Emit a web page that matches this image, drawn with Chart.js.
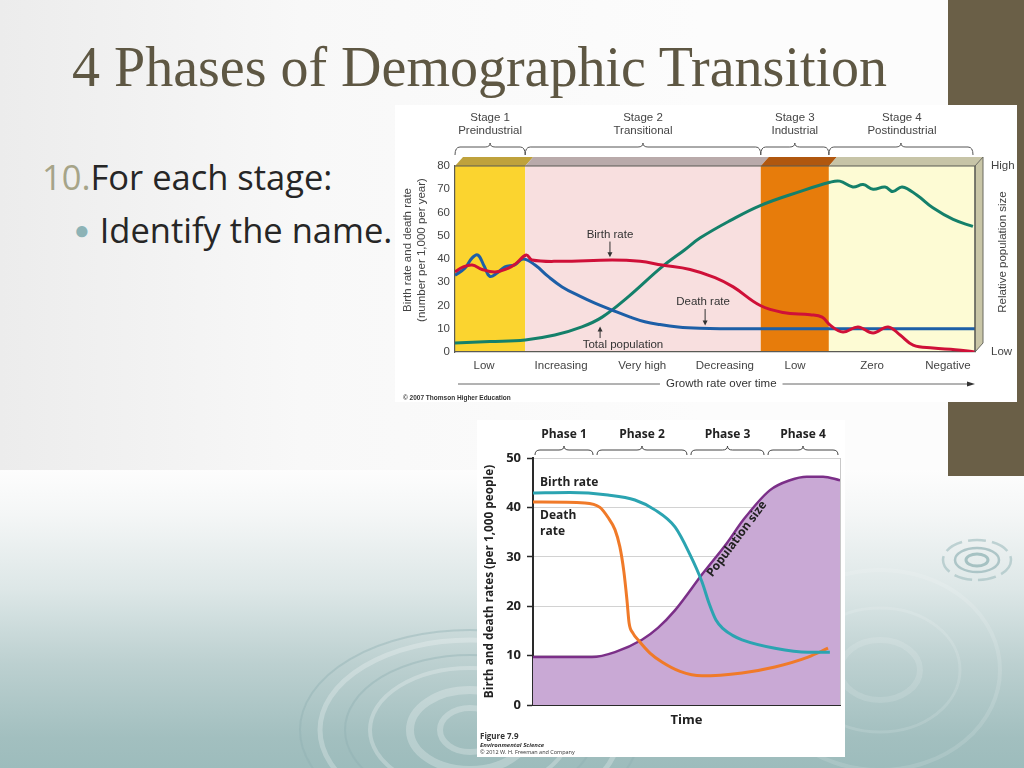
<!DOCTYPE html>
<html>
<head>
<meta charset="utf-8">
<title>4 Phases of Demographic Transition</title>
<script src="https://cdn.jsdelivr.net/npm/chart.js@4.4.1/dist/chart.umd.min.js"></script>
<style>
  html, body { margin: 0; padding: 0; }
  body {
    width: 1024px; height: 768px; position: relative; overflow: hidden;
    background: linear-gradient(to right, #ececec 0px, #f8f8f8 300px, #fcfcfc 700px);
    font-family: "Open Sans", sans-serif;
  }
  #sea {
    position: absolute; left: 0; top: 470px; width: 1024px; height: 298px;
    background: linear-gradient(to bottom, #fdfdfd 0%, #f4f6f6 15%, #dde7e7 40%, #bcd0d0 65%, #a2bfbf 90%, #9dbcbc 100%);
  }
  #ripples { position: absolute; left: 0; top: 0; }
  #olive { position: absolute; left: 948px; top: 0; width: 76px; height: 476px; background: #6a5f47; }
  #title {
    position: absolute; left: 72px; top: 39px; line-height: 1; white-space: nowrap;
    font-family: "Liberation Serif", serif; font-size: 56px; color: #5e5743;
  }
  .line { position: absolute; white-space: nowrap; line-height: 1; font-size: 34.5px; color: #262626; }
  #l1 { left: 42px; top: 160px; }
  #l1 .num { color: #a6a488; }
  #l2 { left: 74px; top: 213px; }
  #l2 .dot { color: #8db3b6; font-size: 26px; position: relative; top: -4px; margin-right: 10px; }
  #topBox { position: absolute; left: 395px; top: 105px; width: 622px; height: 297px; background: #fff; }
  #botBox { position: absolute; left: 477px; top: 420px; width: 368px; height: 337px; background: #fff; }
</style>
</head>
<body>
<div id="sea"></div>
<svg id="ripples" width="1024" height="768">
  <g fill="none" stroke="#ffffff" stroke-opacity="0.25">
    <ellipse cx="470" cy="730" rx="150" ry="90" stroke-width="5"/>
    <ellipse cx="470" cy="730" rx="100" ry="62" stroke-width="4"/>
    <ellipse cx="470" cy="730" rx="60" ry="40" stroke-width="8"/>
    <ellipse cx="470" cy="730" rx="30" ry="22" stroke-width="6"/>
  </g>
  <g fill="none" stroke="#ffffff" stroke-opacity="0.13">
    <ellipse cx="880" cy="670" rx="120" ry="100" stroke-width="4"/>
    <ellipse cx="880" cy="670" rx="80" ry="62" stroke-width="3"/>
    <ellipse cx="880" cy="670" rx="40" ry="30" stroke-width="6"/>
  </g>
  <g fill="none" stroke="#8fb0b2" stroke-opacity="0.4">
    <ellipse cx="470" cy="730" rx="170" ry="100" stroke-width="2"/>
    <ellipse cx="470" cy="730" rx="125" ry="75" stroke-width="2"/>
  </g>
  <g fill="none" stroke="#9fbcbe" stroke-width="2.5">
    <ellipse cx="977" cy="560" rx="34" ry="20" stroke-opacity="0.6" stroke-dasharray="18 6"/>
    <ellipse cx="977" cy="560" rx="22" ry="12" stroke-opacity="0.8"/>
    <ellipse cx="977" cy="560" rx="11" ry="6" stroke-opacity="0.9" stroke-width="3"/>
  </g>
</svg>
<div id="olive"></div>
<div id="title">4 Phases of Demographic Transition</div>
<div class="line" id="l1"><span class="num">10.</span>For each stage:</div>
<div class="line" id="l2"><span class="dot">&#9679;</span>Identify the name.</div>
<div id="topBox"><canvas id="top" width="622" height="297"></canvas></div>
<div id="botBox"><canvas id="bot" width="368" height="337"></canvas></div>

<script>
// ---------- top chart (Thomson) : x is time 0..100 ----------
const stageNames = ['Stage 1', 'Stage 2', 'Stage 3', 'Stage 4'];
const stageSubs = ['Preindustrial', 'Transitional', 'Industrial', 'Postindustrial'];
const stageEdges = [0, 13.5, 58.8, 71.9, 100];
const growthLabels = ['Low', 'Increasing', 'Very high', 'Decreasing', 'Low', 'Zero', 'Negative'];
const growthAt = [5.6, 20.4, 36, 51.9, 65.4, 80.2, 94.8];

const birthX = [0, 1.5, 3.3, 5.2, 7.7, 10.2, 11.7, 13.7, 14.8, 20.2, 30.2, 35.6, 39.8, 45.2, 50, 53.5, 58.7, 63.1, 68.3, 70.6, 72.1, 74.6, 77.5, 80.4, 83.3, 85.6, 88.1, 91.9, 96.2, 100];
const birthY = [34.5, 36.5, 37.4, 35.5, 34.4, 36, 38, 41.7, 39.6, 39, 39.6, 39, 37.4, 35.5, 32, 28, 20, 17, 16, 15, 11.6, 8.6, 10.8, 8.2, 10.8, 7.3, 3, 1.7, 1, 0];
const deathX = [0, 1.9, 3.3, 4.4, 5.6, 6.7, 8.1, 9.6, 11.5, 13.1, 15.4, 17.9, 20.6, 24, 26.9, 30.2, 33.7, 36.5, 39.4, 42.9, 47.1, 51, 66.3, 85.6, 100];
const deathY = [33, 36, 40.5, 41.7, 37, 32.5, 34, 36.6, 37.5, 40, 37.4, 32.5, 28, 24, 21, 18, 15, 13, 11.8, 10.8, 10.2, 10, 10, 10, 10];
const popX = [0, 6.7, 13.5, 19.2, 24.4, 28.3, 33.3, 39.8, 44.2, 47.1, 52.9, 58.7, 66.3, 72.1, 74, 76.5, 78.5, 80.4, 82.7, 84.2, 86, 88.8, 91.9, 95.8, 99.6];
const popY = [3.9, 4.5, 5.2, 7.3, 10.8, 15, 23.7, 36.6, 44, 49, 56.5, 63, 69, 73, 73.5, 71, 72, 70, 71, 69, 71, 67.5, 62, 57, 54];

// ---------- bottom chart (Freeman) : x is time 0..100 ----------
const phaseNames = ['Phase 1', 'Phase 2', 'Phase 3', 'Phase 4'];
const phaseEdges = [0, 20.2, 50.8, 75.9, 100];
const rateTicks = [0, 10, 20, 30, 40, 50];

const fBirthX = [0, 12, 24.4, 33.2, 39.7, 46.3, 51.1, 55, 57.4, 59.6, 62, 65, 68.1, 78.8, 89.6, 96.7];
const fBirthY = [42.9, 43, 42.5, 41.5, 39.5, 36, 30.5, 25, 20.5, 17.2, 15.4, 14.1, 13.2, 11.5, 10.7, 10.7];
const fDeathX = [0, 16.9, 21.8, 24.4, 26.7, 28.3, 29.6, 30.6, 31.3, 32.6, 34.2, 38.1, 42, 47.9, 55, 68.1, 78.8, 89.6, 96.1];
const fDeathY = [41.1, 40.9, 40, 38, 35.5, 32, 27, 21.3, 16.6, 14.5, 13.2, 10.5, 8.7, 6.8, 5.9, 6.5, 7.7, 9.7, 11.5];
const fPopX = [0, 19.2, 26.7, 35.5, 40.7, 46.3, 55.4, 63.2, 68.4, 77.2, 83.7, 89.2, 94.5, 100];
const fPopY = [9.7, 9.7, 10.7, 13.2, 15.6, 19.2, 26.7, 32.8, 37.4, 43.5, 45.5, 46.2, 46.2, 45.5];

const pts = (xs, ys) => xs.map((x, i) => ({ x: x, y: ys[i] }));

function brace(ctx, x1, x2, y0, y1, y2) {
  const m = (x1 + x2) / 2, r = Math.min(5, (x2 - x1) / 4);
  ctx.beginPath();
  ctx.moveTo(x1, y0);
  ctx.quadraticCurveTo(x1, y1, x1 + r, y1);
  ctx.lineTo(m - r, y1);
  ctx.quadraticCurveTo(m, y1, m, y2);
  ctx.quadraticCurveTo(m, y1, m + r, y1);
  ctx.lineTo(x2 - r, y1);
  ctx.quadraticCurveTo(x2, y1, x2, y0);
  ctx.stroke();
}

function arrow(ctx, x, yFrom, yTo) {
  const d = yTo > yFrom ? 1 : -1;
  ctx.beginPath();
  ctx.moveTo(x, yFrom);
  ctx.lineTo(x, yTo - d * 4);
  ctx.stroke();
  ctx.beginPath();
  ctx.moveTo(x, yTo);
  ctx.lineTo(x - 2.5, yTo - d * 5);
  ctx.lineTo(x + 2.5, yTo - d * 5);
  ctx.closePath();
  ctx.fill();
}

const SANS = '"Liberation Sans", Arial, sans-serif';
const stageFill = ['#fbd42f', '#f8dfdf', '#e77c0b', '#fdfbd4'];
const stageTopFill = ['#bfa23c', '#b9aaaa', '#b0570f', '#c7c4a7'];

const topDecor = {
  id: 'topDecor',
  beforeDraw(chart) {
    const { ctx, chartArea: a, scales: { x } } = chart;
    ctx.save();
    for (let i = 0; i < 4; i++) {
      const x1 = x.getPixelForValue(stageEdges[i]), x2 = x.getPixelForValue(stageEdges[i + 1]);
      ctx.fillStyle = stageFill[i];
      ctx.fillRect(x1, a.top, x2 - x1, a.bottom - a.top);
      ctx.fillStyle = stageTopFill[i];
      ctx.beginPath();
      ctx.moveTo(x1, a.top); ctx.lineTo(x2, a.top); ctx.lineTo(x2 + 8, a.top - 9); ctx.lineTo(x1 + 8, a.top - 9);
      ctx.closePath(); ctx.fill();
    }
    // right face
    ctx.fillStyle = '#c9c6a7';
    ctx.strokeStyle = '#6a6a60';
    ctx.lineWidth = 1;
    ctx.beginPath();
    ctx.moveTo(a.right, a.top); ctx.lineTo(a.right + 8, a.top - 9); ctx.lineTo(a.right + 8, a.bottom - 9); ctx.lineTo(a.right, a.bottom);
    ctx.closePath(); ctx.fill(); ctx.stroke();
    ctx.restore();
  },
  afterDraw(chart) {
    const { ctx, chartArea: a, scales: { x, y } } = chart;
    ctx.save();
    ctx.strokeStyle = '#5a5a55';
    ctx.lineWidth = 1.2;
    ctx.beginPath(); ctx.moveTo(a.left, a.top); ctx.lineTo(a.right, a.top); ctx.lineTo(a.right, a.bottom); ctx.stroke();

    // stage headers and braces
    ctx.fillStyle = '#444';
    ctx.font = '11.5px ' + SANS;
    ctx.textAlign = 'center';
    ctx.textBaseline = 'middle';
    ctx.strokeStyle = '#555';
    ctx.lineWidth = 1;
    for (let i = 0; i < 4; i++) {
      const x1 = x.getPixelForValue(stageEdges[i]), x2 = x.getPixelForValue(stageEdges[i + 1]);
      const m = (x1 + x2) / 2;
      ctx.fillText(stageNames[i], m, a.top - 48);
      ctx.fillText(stageSubs[i], m, a.top - 35);
      brace(ctx, x1, x2 - (i === 3 ? 2 : 0), a.top - 11, a.top - 19, a.top - 23);
    }

    // curve annotations
    ctx.fillStyle = '#333';
    ctx.strokeStyle = '#333';
    ctx.font = '11.5px ' + SANS;
    ctx.fillText('Birth rate', x.getPixelForValue(29.8), y.getPixelForValue(50.3));
    arrow(ctx, x.getPixelForValue(29.8), y.getPixelForValue(47.5), y.getPixelForValue(40.8));
    ctx.fillText('Death rate', x.getPixelForValue(47.7), y.getPixelForValue(21.6));
    arrow(ctx, x.getPixelForValue(48.1), y.getPixelForValue(18.5), y.getPixelForValue(11.4));
    ctx.fillText('Total population', x.getPixelForValue(32.3), y.getPixelForValue(3));
    arrow(ctx, x.getPixelForValue(27.9), y.getPixelForValue(6), y.getPixelForValue(11));

    // growth rate arrow
    const gy = a.bottom + 32;
    ctx.font = '11.5px ' + SANS;
    const gt = 'Growth rate over time';
    const gm = x.getPixelForValue(51.2);
    const gw = ctx.measureText(gt).width;
    ctx.fillText(gt, gm, gy);
    ctx.strokeStyle = '#666';
    ctx.lineWidth = 1;
    ctx.beginPath();
    ctx.moveTo(a.left + 3, gy); ctx.lineTo(gm - gw / 2 - 6, gy);
    ctx.moveTo(gm + gw / 2 + 6, gy); ctx.lineTo(a.right - 6, gy);
    ctx.stroke();
    ctx.fillStyle = '#333';
    ctx.beginPath();
    ctx.moveTo(a.right, gy); ctx.lineTo(a.right - 8, gy - 2.5); ctx.lineTo(a.right - 8, gy + 2.5);
    ctx.closePath(); ctx.fill();

    // axis titles
    ctx.fillStyle = '#444';
    ctx.font = '11.5px ' + SANS;
    ctx.save();
    ctx.translate(13, a.top + 84);
    ctx.rotate(-Math.PI / 2);
    ctx.fillText('Birth rate and death rate', 0, 0);
    ctx.fillText('(number per 1,000 per year)', 0, 14);
    ctx.restore();
    ctx.save();
    ctx.translate(a.right + 28, a.top + 86);
    ctx.rotate(-Math.PI / 2);
    ctx.fillText('Relative population size', 0, 0);
    ctx.restore();

    ctx.font = 'bold 6.5px ' + SANS;
    ctx.textAlign = 'left';
    ctx.fillStyle = '#333';
    ctx.fillText('\u00a9 2007 Thomson Higher Education', 8, chart.height - 4);
    ctx.restore();
  }
};

new Chart(document.getElementById('top'), {
  type: 'line',
  data: {
    datasets: [
      { label: 'Birth rate', data: pts(birthX, birthY), borderColor: '#cf1038', borderWidth: 3, tension: 0.4 },
      { label: 'Death rate', data: pts(deathX, deathY), borderColor: '#1d5fa7', borderWidth: 3, tension: 0.4 },
      { label: 'Total population', data: pts(popX, popY), borderColor: '#14806a', borderWidth: 3, tension: 0.4 }
    ]
  },
  options: {
    responsive: false,
    animation: false,
    events: [],
    layout: { padding: { top: 61, left: 0, right: 0, bottom: 0 } },
    elements: { point: { radius: 0 } },
    plugins: { legend: { display: false }, tooltip: { enabled: false } },
    scales: {
      x: {
        type: 'linear', min: 0, max: 100,
        afterBuildTicks: s => { s.ticks = growthAt.map(v => ({ value: v })); },
        afterFit: s => { s.height = 50; },
        grid: { display: false, drawTicks: false },
        border: { color: '#5a5a55', width: 1.2 },
        ticks: {
          autoSkip: false, maxRotation: 0, padding: 7, color: '#444',
          font: { family: SANS, size: 11.5 },
          callback: (v, i) => growthLabels[i]
        }
      },
      y: {
        min: 0, max: 80,
        afterFit: s => { s.width = 60; },
        grid: { display: false, drawTicks: false },
        border: { color: '#5a5a55', width: 1.2 },
        ticks: { stepSize: 10, padding: 5, color: '#444', font: { family: SANS, size: 11.5 } }
      },
      y2: {
        position: 'right', min: 0, max: 1,
        afterBuildTicks: s => { s.ticks = [{ value: 0 }, { value: 1 }]; },
        afterFit: s => { s.width = 42; },
        grid: { display: false, drawTicks: false },
        border: { display: false },
        ticks: {
          padding: 16, color: '#444', font: { family: SANS, size: 11.5 },
          callback: v => (v === 1 ? 'High' : 'Low')
        }
      }
    }
  },
  plugins: [topDecor]
});

// ---------- bottom chart ----------
const BOLD = '"Open Sans", "Noto Sans", sans-serif';

const botDecor = {
  id: 'botDecor',
  afterDraw(chart) {
    const { ctx, chartArea: a, scales: { x, y } } = chart;
    ctx.save();
    ctx.strokeStyle = '#c8c8c8';
    ctx.lineWidth = 1;
    ctx.beginPath(); ctx.moveTo(a.right + 0.5, a.top); ctx.lineTo(a.right + 0.5, a.bottom); ctx.stroke();

    ctx.fillStyle = '#222';
    ctx.textAlign = 'center';
    ctx.textBaseline = 'middle';
    ctx.font = 'bold 12px ' + BOLD;
    ctx.strokeStyle = '#444';
    ctx.lineWidth = 1;
    for (let i = 0; i < 4; i++) {
      const x1 = x.getPixelForValue(phaseEdges[i] + 0.65), x2 = x.getPixelForValue(phaseEdges[i + 1] - 0.65);
      ctx.fillText(phaseNames[i], (x1 + x2) / 2, a.top - 23);
      brace(ctx, x1, x2, a.top - 3, a.top - 8, a.top - 12);
    }

    ctx.textAlign = 'left';
    ctx.font = 'bold 12px ' + BOLD;
    ctx.fillText('Birth rate', a.left + 7, y.getPixelForValue(45));
    ctx.fillText('Death', a.left + 7, y.getPixelForValue(38.3));
    ctx.fillText('rate', a.left + 7, y.getPixelForValue(35.2));

    ctx.save();
    ctx.translate(x.getPixelForValue(66.4), y.getPixelForValue(33.6));
    ctx.rotate(-53 * Math.PI / 180);
    ctx.textAlign = 'center';
    ctx.fillText('Population size', 0, 0);
    ctx.restore();

    ctx.textAlign = 'center';
    ctx.font = 'bold 13px ' + BOLD;
    ctx.fillText('Time', (a.left + a.right) / 2, a.bottom + 15);

    ctx.save();
    ctx.translate(13, (a.top + a.bottom) / 2);
    ctx.rotate(-Math.PI / 2);
    ctx.font = 'bold 11.8px ' + BOLD;
    ctx.fillText('Birth and death rates (per 1,000 people)', 0, 0);
    ctx.restore();

    ctx.textAlign = 'left';
    ctx.fillStyle = '#333';
    ctx.font = 'bold 8px ' + BOLD;
    ctx.fillText('Figure 7.9', 3, 317);
    ctx.font = 'italic bold 6px ' + BOLD;
    ctx.fillText('Environmental Science', 3, 325);
    ctx.font = '5.5px ' + BOLD;
    ctx.fillText('\u00a9 2012 W. H. Freeman and Company', 3, 332);
    ctx.restore();
  }
};

new Chart(document.getElementById('bot'), {
  type: 'line',
  data: {
    datasets: [
      { label: 'Birth rate', data: pts(fBirthX, fBirthY), borderColor: '#2ba4b1', borderWidth: 3, cubicInterpolationMode: 'monotone', order: 0 },
      { label: 'Death rate', data: pts(fDeathX, fDeathY), borderColor: '#f07a29', borderWidth: 3, cubicInterpolationMode: 'monotone', order: 1 },
      { label: 'Population size', data: pts(fPopX, fPopY), borderColor: '#7b2f88', borderWidth: 2.5, backgroundColor: '#c9a9d5', fill: 'origin', cubicInterpolationMode: 'monotone', order: 2 }
    ]
  },
  options: {
    responsive: false,
    animation: false,
    events: [],
    layout: { padding: { top: 38, left: 0, right: 5, bottom: 0 } },
    elements: { point: { radius: 0 } },
    plugins: { legend: { display: false }, tooltip: { enabled: false } },
    scales: {
      x: {
        type: 'linear', min: 0, max: 100,
        afterFit: s => { s.height = 52; },
        grid: { display: false, drawTicks: false },
        border: { color: '#2a2a2a', width: 2 },
        ticks: { display: false }
      },
      y: {
        min: 0, max: 50,
        afterBuildTicks: s => { s.ticks = rateTicks.map(v => ({ value: v })); },
        afterFit: s => { s.width = 56; },
        grid: { color: '#d2d2d2', lineWidth: 1, drawTicks: true, tickLength: 6, tickColor: '#2a2a2a', tickWidth: 1.5 },
        border: { color: '#2a2a2a', width: 2 },
        ticks: { padding: 6, color: '#222', font: { family: BOLD, size: 13, weight: 'bold' } }
      }
    }
  },
  plugins: [botDecor]
});
</script>
</body>
</html>
